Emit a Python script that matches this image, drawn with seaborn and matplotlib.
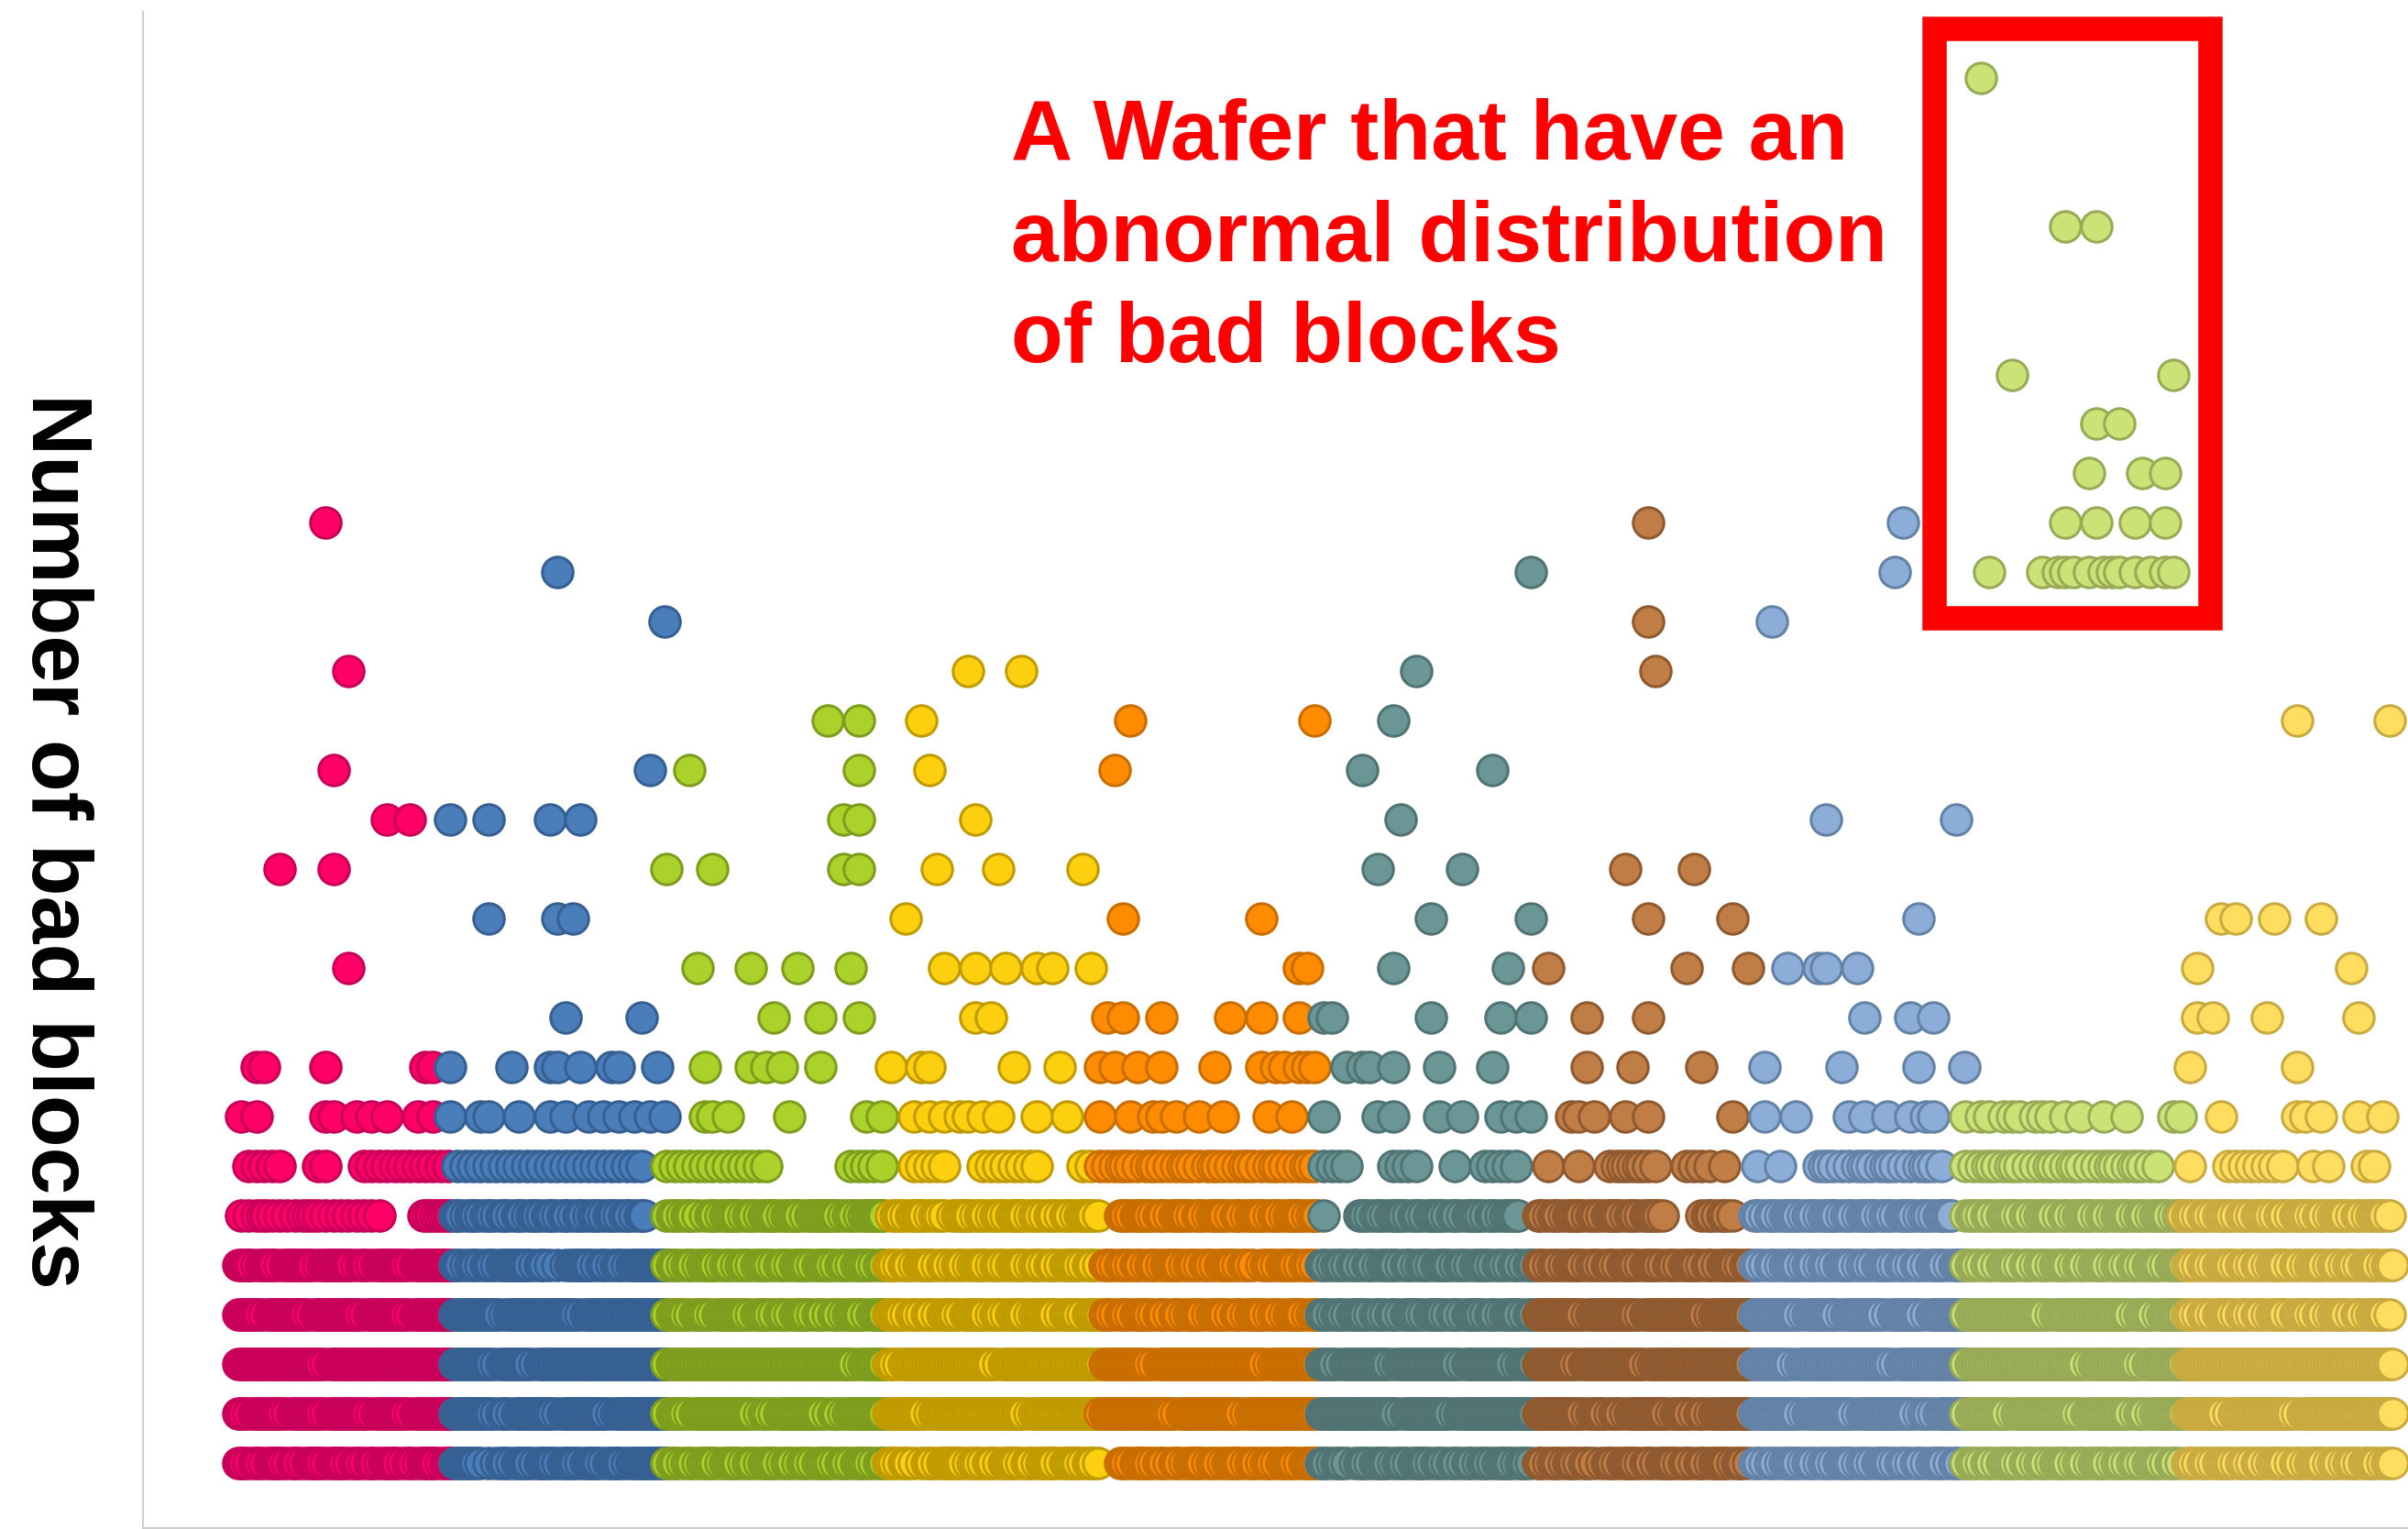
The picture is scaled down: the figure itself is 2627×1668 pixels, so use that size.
import numpy as np
import pandas as pd
import matplotlib
matplotlib.use("Agg")
import matplotlib.pyplot as plt
import seaborn as sns
from matplotlib.patches import Rectangle

# ---------------------------------------------------------------- data
WAFERS = ["W01", "W02", "W03", "W04", "W05", "W06", "W07", "W08", "W09", "W10"]
FILL_COLORS = ["#FF0066", "#4A7EBB", "#AAD22A", "#FCD00F", "#FF8C00",
               "#6B9696", "#C07D46", "#8CADD8", "#CAE276", "#FFDE5F"]
EDGE_COLORS = ["#C8005A", "#376092", "#7E9C1E", "#C09B00", "#C86E00",
               "#517373", "#8F5A30", "#6482A5", "#98AA56", "#C8AA40"]
WAFER_PITCH = 28.2        # die slots per wafer block on the x axis
Y_TICKS = list(range(0, 29, 2))
Y_LABEL = "Number of bad blocks"
NOTE_LINES = ["A Wafer that have an", "abnormal distribution", "of bad blocks"]

# level (bad blocks) -> list of die slots, or a density row:
# density rows: first char = slot -1, then slots 0..27 in groups of four;
# each digit = number of dies at that level in that slot, '.' = none
W01 = {19: [11], 16: [14], 14: [12], 13: [19, 22], 12: [5, 12], 10: [14],
       8: [2, 3, 11, 24, 25],
       7: [0, 2, 11, 12, 15, 17, 19, 23, 25],
       6: ". .111 11.. ..11 .... 1111 1111 1111",
       5: ". 1112 1111 1211 1111 111. .... 2222",
       4: ". 3313 3133 3313 3331 3133 3313 3333",
       3: ". 3331 3333 3133 3333 1333 3313 3333",
       2: ". 3333 3333 3331 3333 3333 3333 3333",
       1: ". 3133 3313 3331 3333 3133 3313 3333",
       0: ". 3131 3313 1331 3313 1313 3131 3313"}
W02 = {18: [13], 17: [27], 14: [25], 13: [-1, 4, 12, 16], 11: [4, 13, 15], 9: [14, 24],
       8: [-1, 7, 12, 13, 16, 20, 21, 26],
       7: [-1, 3, 4, 8, 12, 14, 17, 19, 21, 23, 25, 27],
       6: ". 1111 1111 1111 1111 1111 1111 1...",
       5: ". 3131 3131 3131 3131 3131 3131 3...",
       4: ". 3131 3133 3313 1113 3313 1313 3333",
       3: ". 3333 3313 3333 3333 1333 3333 3333",
       2: ". 3333 3133 3313 3333 3333 3333 3333",
       1: ". 3333 3131 3333 3133 3333 1333 3333",
       0: ". 3331 1131 3313 3133 1331 3313 3333"}
W03 = {15: [20, 24], 14: [2, 24], 13: [22, 24], 12: [-1, 5, 22, 24], 10: [3, 10, 16, 23],
       9: [13, 19, 24],
       8: [4, 10, 12, 14, 19],
       7: [4, 5, 7, 15, 25, 27],
       6: "1 1111 1111 1111 1... .... ...1 1111",
       5: "1 3131 1313 3131 3313 3133 3313 1333",
       4: "1 3131 3313 1313 3131 3313 3131 3313",
       3: "1 3313 3133 3313 3131 3313 1313 3133",
       2: "1 3333 3333 3333 3333 3333 3333 1333",
       1: "1 3313 3333 3331 3133 3333 1313 3333",
       0: "1 3131 3313 3131 3313 1313 3131 3313"}
W04 = {16: [10, 17], 15: [4], 14: [5], 13: [11], 12: [6, 14, 25], 11: [2],
       10: [7, 11, 15, 19, 21, 26], 9: [11, 13],
       8: [0, 4, 5, 16, 22],
       7: [3, 5, 7, 9, 10, 12, 14, 19, 23],
       6: ". ...1 1111 .... 1111 1111 .... .11.",
       5: ". 1313 3131 1331 3131 3313 1313 1331",
       4: ". 3131 3313 1313 3131 3313 1313 3131",
       3: ". 3313 1313 3133 3131 3313 3313 3133",
       2: ". 3133 3333 3333 3313 3333 3333 3333",
       1: ". 3333 3133 3333 3333 3313 3333 3333",
       0: ". 3131 1313 3313 1313 3131 3313 3131"}
W05 = {15: [3, 27], 14: [1], 11: [2, 20], 10: [25, 26], 9: [0, 2, 7, 16, 20, 25],
       8: [-1, 1, 4, 7, 14, 20, 22, 23, 25, 26, 27],
       7: [-1, 3, 6, 7, 9, 12, 15, 21, 24],
       6: "1 1121 1121 1121 1121 1121 1121 1121",
       5: ". ..31 3313 1331 3133 1313 3131 3313",
       4: ". 3131 3131 3313 1313 3131 1313 3131",
       3: ". 3131 3313 1313 3133 1313 3131 3313",
       2: ". 3333 3313 3333 3333 3333 3133 3333",
       1: "1 3333 3333 3133 3333 3313 3333 3333",
       0: ". ..31 3313 1313 3131 3313 1313 3133"}
W06 = {18: [27], 16: [12], 15: [9], 14: [5, 22], 13: [10], 12: [7, 18], 11: [14, 27],
       10: [9, 24],
       9: [0, 1, 14, 23, 27],
       8: [3, 5, 6, 9, 15, 22],
       7: [0, 7, 9, 15, 18, 23, 25, 27],
       6: ". 1111 .... .111 1... .1.. .111 11..",
       5: ". 1... .313 1331 3133 1313 3131 33..",
       4: ". 3131 3131 3313 1313 3131 3313 1313",
       3: ". 3131 3313 1313 3133 1313 3131 3313",
       2: ". 3313 3333 3133 3333 3313 3333 3133",
       1: ". 3333 3333 3313 3333 3133 3333 3333",
       0: ". 3131 1313 3131 3313 1313 1313 3131"}
W07 = {19: [14], 17: [14], 16: [15], 12: [11, 20], 11: [14, 25], 10: [1, 19, 27],
       9: [6, 14],
       8: [6, 12, 21],
       7: [4, 5, 7, 11, 14, 25],
       6: ". .1.. .1.. .112 1211 ...1 111. 1...",
       5: ". 3131 3313 1331 3133 1... .131 31..",
       4: ". 3131 3313 1313 3133 1313 3131 3313",
       3: ". 3333 3313 3333 3133 3333 3313 3333",
       2: ". 3333 3133 3333 3313 3333 3333 3333",
       1: ". 3333 3313 3131 3333 3133 1313 3333",
       0: ". 3131 3131 1313 3131 3313 1313 3131"}
W08 = {19: [19], 18: [18], 17: [2], 13: [9, 26], 11: [21], 10: [4, 8, 9, 13],
       9: [14, 20, 23],
       8: [1, 11, 21, 27],
       7: [1, 5, 12, 14, 17, 20, 22, 23],
       6: ". 1..1 .... 1211 1121 1211 1121 1...",
       5: ". 3131 3313 1331 3133 1313 3131 33..",
       4: ". 3131 3313 1313 3131 3313 1313 3133",
       3: ". 3333 3313 3331 3333 3133 3313 3333",
       2: ". 3333 3133 3333 3333 3313 3333 3333",
       1: ". 3333 3313 3333 3133 3333 3131 3333",
       0: ". 3131 3313 1313 3131 3313 1313 3131"}
W09 = {28: [1], 25: [12, 16], 22: [5, 26], 21: [16, 19], 20: [15, 22, 25],
       19: [12, 16, 21, 25],
       18: [2, 9, 11, 12, 13, 15, 17, 18, 19, 21, 23, 25, 26],
       7: [-1, 1, 2, 4, 5, 6, 8, 9, 10, 12, 14, 17, 20, 26, 27],
       6: "1 1121 1211 1121 1211 1121 1211 1...",
       5: "1 3131 3313 1331 3133 1313 3131 3313",
       4: "1 3131 3313 1313 3131 3313 1313 3133",
       3: "1 3333 3333 3313 3333 3333 3133 1333",
       2: "1 3333 3333 3333 3331 3333 3313 3333",
       1: "1 3333 3133 3333 3313 3333 3131 3333",
       0: "1 3131 3313 1313 3131 3313 1313 3131"}
W10 = {15: [14, 26], 11: [4, 6, 11, 17], 10: [1, 21], 9: [1, 3, 10, 22], 8: [0, 14],
       7: [4, 14, 15, 17, 22, 25],
       6: ". 1... .111 1111 1... 1.1. ...1 1...",
       5: "1 3131 3313 1331 3133 1313 3131 331.",
       4: ". 3131 3313 1313 3131 3313 1313 313.",
       3: ". 3131 3313 1313 3133 1313 3131 331.",
       2: ". 3333 3333 3333 3333 3333 3333 333.",
       1: ". 3333 3133 3333 3313 3333 3333 333.",
       0: ". 3131 3313 1313 3131 3313 1313 313."}
WAFER_DATA = [W01, W02, W03, W04, W05, W06, W07, W08, W09, W10]


def wafer_frame(k, spec):
    rows = []
    for level, cells in spec.items():
        if isinstance(cells, str):
            cells = cells.replace(" ", "")
            for j, ch in enumerate(cells):
                if ch == ".":
                    continue
                n = int(ch)
                for i in range(n):
                    rows.append((k * WAFER_PITCH + (j - 1) + (i - (n - 1) / 2) / n, level))
        else:
            for s in cells:
                rows.append((k * WAFER_PITCH + s, level))
    df = pd.DataFrame(rows, columns=["die", "bad_blocks"])
    df["wafer"] = WAFERS[k]
    return df.sort_values("die", kind="stable").reset_index(drop=True)


# ---------------------------------------------------------------- figure
sns.set_style("white")
plt.rcParams["font.family"] = ["Liberation Sans", "DejaVu Sans"]

W_PX, H_PX = 2627, 1668
fig = plt.figure(figsize=(W_PX / 100, H_PX / 100), dpi=100)
ax_left, ax_top, ax_bot = 156 / W_PX, 13 / H_PX, 1.2 / H_PX
ax = fig.add_axes([ax_left, ax_bot, 1 - ax_left, 1 - ax_top - ax_bot])

for k, spec in enumerate(WAFER_DATA):
    df = wafer_frame(k, spec)
    sns.scatterplot(data=df, x="die", y="bad_blocks", color=FILL_COLORS[k],
                    edgecolor=EDGE_COLORS[k], linewidth=2.2, s=581, marker="o",
                    legend=False, ax=ax, zorder=3)

ax.set_xlim(-12.78, 282.2)
ax.set_ylim(-1.32, 29.33)
ax.set_xticks([])
ax.set_yticks(Y_TICKS)
ax.set_yticklabels([])
ax.tick_params(axis="y", length=8, width=1.5, color="#cfcfcf", direction="out")
for side in ("top", "right"):
    ax.spines[side].set_visible(False)
for side in ("left", "bottom"):
    ax.spines[side].set_color("#cfcfcf")
    ax.spines[side].set_linewidth(1.5)
ax.set_xlabel("")
ax.set_ylabel(Y_LABEL, fontsize=67, fontweight="bold", rotation=270,
              color="black", va="center", ha="center")
ax.yaxis.set_label_coords(-0.0393, 0.4534)

# annotation: red frame around the abnormal wafer and its caption
ax.add_patch(Rectangle((220.54, 17.08), 35.87, 11.92, fill=False,
                       edgecolor="#FF0000", linewidth=19.1, joinstyle="miter",
                       clip_on=False, zorder=5))
for i, line in enumerate(NOTE_LINES):
    fig.text(1103 / W_PX, 1 - (174 + 110.5 * i) / H_PX, line, color="#FF0000",
             fontsize=67, fontweight="bold", ha="left", va="baseline")

fig.savefig("out.png", dpi=100)
